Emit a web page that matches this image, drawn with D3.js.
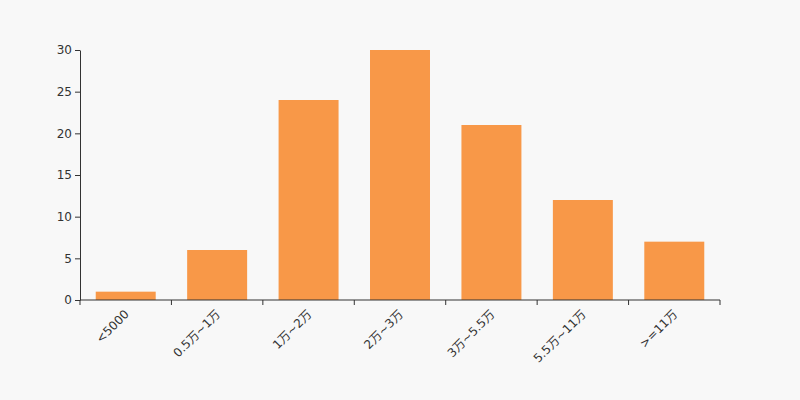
<!DOCTYPE html>
<html><head><meta charset="utf-8">
<script src="https://cdn.jsdelivr.net/npm/d3@7"></script>
<style>body{margin:0;background:#f8f8f8;}svg{display:block;}svg text{font-family:"DejaVu Sans","Noto Sans CJK SC",sans-serif;}</style>
</head><body><svg id="c" width="800" height="400"></svg>
<script>
const categories = ["<5000","0.5万~1万","1万~2万","2万~3万","3万~5.5万","5.5万~11万",">=11万"];
const values = [1,6,24,30,21,12,7];
const yTicks = [0,5,10,15,20,25,30];

const svg = d3.select("#c");
svg.append("rect").attr("width",800).attr("height",400).attr("fill","#f8f8f8");
const m = {l:80, r:720, t:50, b:300};
const x = d3.scaleBand().domain(categories).range([m.l, m.r]).paddingInner(0).paddingOuter(0);
const y = d3.scaleLinear().domain([0,30]).range([m.b, m.t]);
const bw = x.bandwidth()*0.656;

svg.append("g").selectAll("rect").data(values).join("rect")
  .attr("x",(d,i)=>x(categories[i])+(x.bandwidth()-bw)/2)
  .attr("y",d=>y(d)).attr("width",bw).attr("height",d=>y(0)-y(d))
  .attr("fill","#f89848");

const yAxis = svg.append("g").attr("transform",`translate(${m.l},0)`)
  .call(d3.axisLeft(y).tickValues(yTicks).tickSize(5).tickSizeOuter(0).tickPadding(3));
yAxis.attr("font-family",null).attr("font-size",null);
yAxis.select(".domain").attr("stroke","#333");
yAxis.selectAll("line").attr("stroke","#333");
yAxis.selectAll("text").attr("fill","#333").style("font-size","12px");

const xAxis = svg.append("g").attr("transform",`translate(0,${m.b})`);
xAxis.append("line").attr("x1",m.l).attr("x2",m.r).attr("stroke","#333");
const bounds = categories.map(c=>x(c)).concat([m.r]);
xAxis.selectAll("line.t").data(bounds).join("line").attr("class","t")
  .attr("x1",d=>d).attr("x2",d=>d).attr("y1",0).attr("y2",5).attr("stroke","#333");
xAxis.selectAll("text").data(categories).join("text")
  .attr("transform",d=>`translate(${x(d)+x.bandwidth()/2+1},${12}) rotate(-45)`)
  .attr("text-anchor","end").attr("dy","0.35em")
  .attr("fill","#333").style("font-size","12px").text(d=>d);
</script></body></html>
